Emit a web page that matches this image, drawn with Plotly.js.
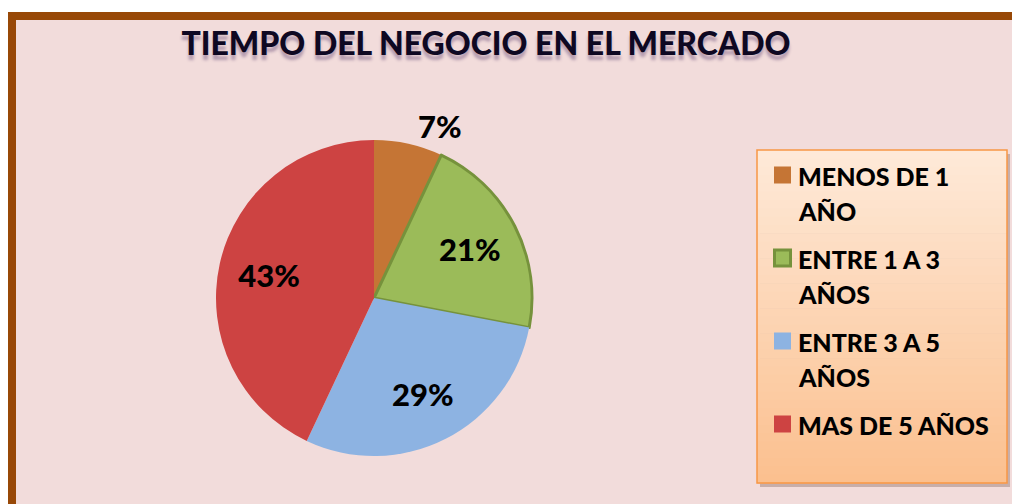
<!DOCTYPE html>
<html>
<head>
<meta charset="utf-8">
<script src="https://cdn.plot.ly/plotly-3.0.1.min.js"></script>
<style>html,body{margin:0;padding:0;background:#fff;}#chart{width:1012px;height:504px;}</style>
</head>
<body>
<div id="chart"></div>
<script>
// ---- data ----
const categories = ['MENOS DE 1 AÑO', 'ENTRE 1 A 3 AÑOS', 'ENTRE 3 A 5 AÑOS', 'MAS DE 5 AÑOS'];
const legendLines = [['MENOS DE 1', 'AÑO'], ['ENTRE 1 A 3', 'AÑOS'], ['ENTRE 3 A 5', 'AÑOS'], ['MAS DE 5 AÑOS']];
const percents = [7, 21, 29, 43];
const sliceColors = ['#c57535', '#9bbb59', '#8db3e2', '#cd4342'];
const titleText = 'TIEMPO DEL NEGOCIO EN EL MERCADO';

// ---- layout helpers ----
const W = 1012, H = 504;
const px = x => x / W;
const py = y => 1 - y / H;
const FONT = 'Lato, "Open Sans", sans-serif';

const shapes = [];
const annotations = [];

// chart frame
shapes.push({type: 'rect', xref: 'paper', yref: 'paper', layer: 'below',
  x0: px(12), x1: px(1030), y0: py(520), y1: py(16),
  fillcolor: '#f2dcdb', line: {color: '#984807', width: 8}});

// legend box shadow + gradient
const LX0 = 757, LX1 = 1007, LY0 = 150, LY1 = 483;
shapes.push({type: 'rect', xref: 'paper', yref: 'paper', layer: 'below',
  x0: px(LX0 + 3), x1: px(LX1 + 3), y0: py(LY1 + 4), y1: py(LY0 + 4),
  fillcolor: 'rgba(120,90,80,0.35)', line: {width: 0}});
const gradTop = [254, 233, 216], gradBot = [251, 192, 143];
const N = 40;
for (let i = 0; i < N; i++) {
  const t = i / (N - 1);
  const c = gradTop.map((v, k) => Math.round(v + (gradBot[k] - v) * t));
  const ya = LY0 + (LY1 - LY0) * i / N, yb = LY0 + (LY1 - LY0) * (i + 1) / N + 0.6;
  shapes.push({type: 'rect', xref: 'paper', yref: 'paper', layer: 'below',
    x0: px(LX0), x1: px(LX1), y0: py(yb), y1: py(ya),
    fillcolor: `rgb(${c[0]},${c[1]},${c[2]})`, line: {width: 0}});
}
shapes.push({type: 'rect', xref: 'paper', yref: 'paper', layer: 'below',
  x0: px(LX0), x1: px(LX1), y0: py(LY1), y1: py(LY0),
  fillcolor: 'rgba(0,0,0,0)', line: {color: '#f79646', width: 1.5}});

// legend entries
const ENTRY0 = 175, PITCH = 83, LINEGAP = 35;
legendLines.forEach((lines, i) => {
  const yc = ENTRY0 + i * PITCH;
  const s = (i === 1) ? 9.5 : 8.5;
  const inset = (i === 1) ? 1.5 : 0;
  shapes.push({type: 'rect', xref: 'paper', yref: 'paper', layer: 'below',
    x0: px(782.5 - s + inset), x1: px(782.5 + s - inset),
    y0: py(yc + s - inset), y1: py(yc - s + inset),
    fillcolor: sliceColors[i],
    line: i === 1 ? {color: '#76923c', width: 3} : {width: 0}});
  lines.forEach((ln, j) => {
    annotations.push({xref: 'paper', yref: 'paper', x: px(796), y: py(yc + j * LINEGAP + 1),
      xanchor: 'left', yanchor: 'middle', showarrow: false, text: ln,
      font: {family: FONT, size: 25, color: '#000', weight: 900}});
  });
});

const pieDomain = {x: [px(216), px(532)], y: [py(456), py(140)]};
const labelFont = {family: FONT, size: 31, color: '#000', weight: 900};

// filled pie (slices + outline)
const pieFill = {
  type: 'pie',
  labels: categories,
  values: percents,
  sort: false,
  direction: 'clockwise',
  rotation: 0,
  domain: pieDomain,
  marker: {colors: sliceColors,
    line: {color: ['rgba(0,0,0,0)', '#76923c', 'rgba(0,0,0,0)', 'rgba(0,0,0,0)'], width: [0, 3, 0, 0]}},
  textinfo: 'none',
  hoverinfo: 'label+percent',
  showlegend: false
};

// transparent ring carrying the percentage labels
const pieLabels = {
  type: 'pie',
  labels: categories,
  values: percents,
  sort: false,
  direction: 'clockwise',
  rotation: 0,
  hole: 0.36,
  domain: pieDomain,
  marker: {colors: categories.map(() => 'rgba(0,0,0,0)'), line: {width: 0}},
  texttemplate: '%{percent:.0%}',
  textposition: ['outside', 'inside', 'inside', 'inside'],
  insidetextorientation: 'horizontal',
  textfont: labelFont,
  insidetextfont: labelFont,
  outsidetextfont: labelFont,
  hoverinfo: 'skip',
  showlegend: false
};

const layout = {
  width: W, height: H,
  margin: {l: 0, r: 0, t: 0, b: 0},
  paper_bgcolor: '#ffffff',
  showlegend: false,
  title: {text: titleText, x: px(486), xanchor: 'center', y: py(44), yanchor: 'middle',
    font: {family: FONT, size: 32, color: '#0e0822', weight: 900,
      shadow: '0px 5px 3px rgba(90,60,110,0.4)'}},
  shapes: shapes,
  annotations: annotations
};

Plotly.newPlot('chart', [pieFill, pieLabels], layout, {displayModeBar: false, staticPlot: true});
</script>
</body>
</html>
